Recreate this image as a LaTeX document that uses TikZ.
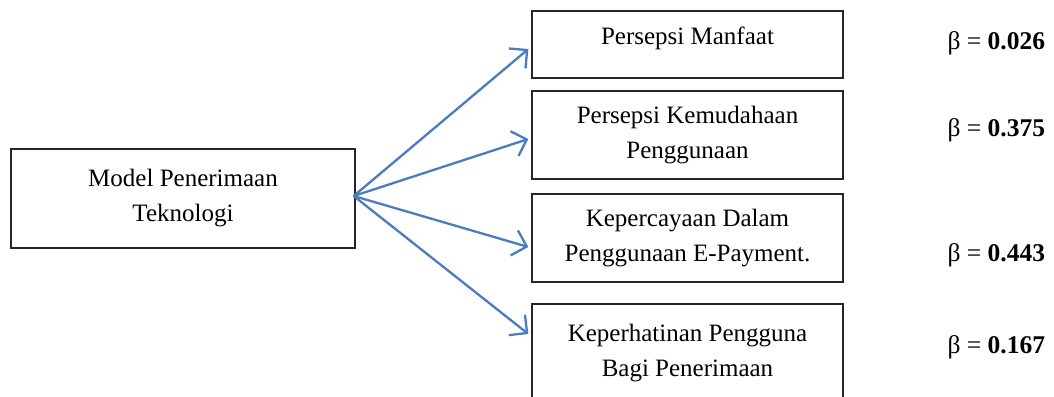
\documentclass[tikz,border=0pt]{standalone}
\usepackage{fontspec}
\setmainfont{Liberation Serif}
\usetikzlibrary{arrows.meta, positioning}

\begin{document}
\begin{tikzpicture} [x=1pt, y=-1pt, on grid,
   box/.style = {draw=black!85, line width=1.3pt, align=center, minimum width=311pt,
                 font=\fontsize{25}{35}\selectfont},
   beta/.style = {anchor=west, font=\fontsize{25.5}{30}\selectfont},
   link/.style = {draw={rgb,255:red,74;green,124;blue,190}, line width=2.3pt,
                  -{Straight Barb[length=13pt, width=26pt, line width=2.3pt]}}]
   \useasboundingbox (0,0) rectangle (1054,396);

   \node (model)[box, minimum width=344pt, minimum height=99pt] at (183,198.5) {Model Penerimaan\\Teknologi};
   \node (pm)[box, minimum height=67pt, text depth=18pt] at (687.5,44.5) {Persepsi Manfaat};
   \node (pk)[box, minimum height=88pt, below = 90.5pt of pm] {Persepsi Kemudahaan\\Penggunaan};
   \node (kp)[box, minimum height=88pt, below = 103pt of pk] {Kepercayaan Dalam\\Penggunaan E-Payment.};
   \node (kh)[box, minimum height=98pt, below = 115pt of kp] {Keperhatinan Pengguna\\Bagi Penerimaan};

   \node (b1)[beta] at (944,43) {β = \textbf{0.026}};
   \node (b2)[beta] at (944,130) {β = \textbf{0.375}};
   \node (b3)[beta] at (944,255) {β = \textbf{0.443}};
   \node (b4)[beta] at (944,347) {β = \textbf{0.167}};

   \coordinate (e1) at ([shift={(-3,4.5)}]pm.west);
   \coordinate (e2) at ([shift={(-3,4)}]pk.west);
   \coordinate (e3) at ([shift={(-3,9)}]kp.west);
   \coordinate (e4) at ([shift={(-3,-19)}]kh.west);

   \path[link] ([shift={(-2,-2.5)}]model.east) -- (e1);
   \path[link] ([shift={(-2,-2.5)}]model.east) -- (e2);
   \path[link] ([shift={(-2,-2.5)}]model.east) -- (e3);
   \path[link] ([shift={(-2,-2.5)}]model.east) -- (e4);
\end{tikzpicture}
\end{document}
